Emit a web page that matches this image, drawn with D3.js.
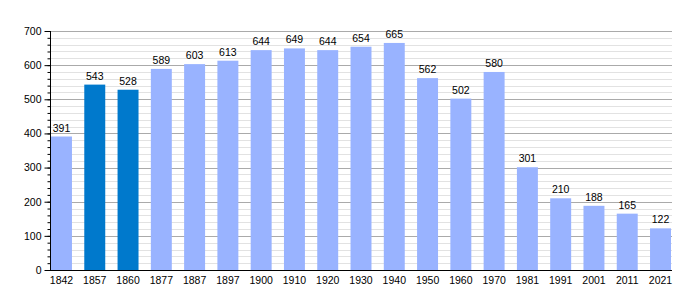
<!DOCTYPE html>
<html>
<head>
<meta charset="utf-8">
<script src="https://cdn.jsdelivr.net/npm/d3@7"></script>
<style>
  body { margin: 0; background: #fff; }
  text { font-family: "Liberation Sans", Arial, sans-serif; font-size: 10.5px; fill: #000; }
</style>
</head>
<body>
<svg id="chart"></svg>
<script>
const years = ["1842", "1857", "1860", "1877", "1887", "1897", "1900", "1910", "1920", "1930",
  "1940", "1950", "1960", "1970", "1981", "1991", "2001", "2011", "2021"];
const population = [391, 543, 528, 589, 603, 613, 644, 649, 644, 654,
  665, 562, 502, 580, 301, 210, 188, 165, 122];
const highlighted = ["1857", "1860"];
const yTicks = [0, 100, 200, 300, 400, 500, 600, 700];

const width = 700;
const height = 300;
const margin = {top: 31, right: 28, bottom: 30, left: 50};

const svg = d3.select("#chart")
  .attr("width", width)
  .attr("height", height);

const x = d3.scaleBand()
  .domain(years)
  .range([margin.left, width - margin.right])
  .paddingInner(0.37)
  .paddingOuter(0.03);

const y = d3.scaleLinear()
  .domain([0, 700])
  .range([height - margin.bottom, margin.top]);

// minor gridlines every 20
svg.append("g")
  .selectAll("line")
  .data(d3.range(20, 701, 20).filter(d => d % 100 !== 0))
  .join("line")
  .attr("x1", margin.left)
  .attr("x2", width - margin.right)
  .attr("y1", d => Math.round(y(d)) + 0.5)
  .attr("y2", d => Math.round(y(d)) + 0.5)
  .attr("stroke", "#e2e2e2");

// major gridlines
svg.append("g")
  .selectAll("line")
  .data(yTicks.slice(1))
  .join("line")
  .attr("x1", margin.left)
  .attr("x2", width - margin.right)
  .attr("y1", d => Math.round(y(d)) + 0.5)
  .attr("y2", d => Math.round(y(d)) + 0.5)
  .attr("stroke", "#aaaaaa");

svg.append("g")
  .selectAll("rect")
  .data(years)
  .join("rect")
  .attr("x", d => x(d))
  .attr("y", (d, i) => y(population[i]))
  .attr("width", x.bandwidth())
  .attr("height", (d, i) => y(0) - y(population[i]))
  .attr("fill", d => highlighted.includes(d) ? "#0079cc" : "#99b3ff");

svg.append("g")
  .selectAll("text")
  .data(years)
  .join("text")
  .attr("x", d => x(d) + x.bandwidth() / 2)
  .attr("y", (d, i) => y(population[i]) - 5)
  .attr("text-anchor", "middle")
  .text((d, i) => population[i]);

// y axis with minor ticks
svg.append("g")
  .attr("transform", `translate(${margin.left + 0.5},0)`)
  .call(d3.axisLeft(y).tickValues(d3.range(0, 701, 20)).tickSize(3).tickFormat(""))
  .call(g => g.select(".domain").remove());

svg.append("g")
  .attr("transform", `translate(${margin.left + 0.5},0)`)
  .call(d3.axisLeft(y).tickValues(yTicks).tickSize(6).tickPadding(3))
  .call(g => g.selectAll("text").style("font-size", "10.5px"))
  .call(g => g.select(".domain").attr("d", `M0,${y(700)}V${y(0)}`));

svg.append("g")
  .attr("transform", `translate(0,${y(0) + 0.5})`)
  .call(d3.axisBottom(x).tickSize(0).tickPadding(6))
  .call(g => g.selectAll("text").style("font-size", "10.5px"))
  .call(g => g.select(".domain").attr("d", `M${margin.left},0H${width - margin.right}`));
</script>
</body>
</html>
